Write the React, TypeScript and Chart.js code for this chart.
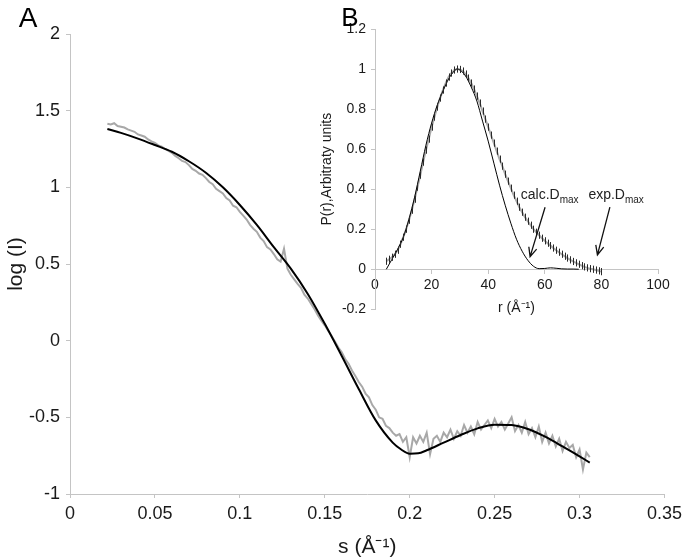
import React, { useEffect, useRef } from 'react';
import { Chart, registerables } from 'chart.js';

Chart.register(...registerables);

// ---------- Panel A data ----------
const MAIN_X_TICKS = [0, 0.05, 0.1, 0.15, 0.2, 0.25, 0.3, 0.35];
const MAIN_Y_TICKS = [-1, -0.5, 0, 0.5, 1, 1.5, 2];

const FIT_S = [0.022, 0.03, 0.04, 0.05, 0.06, 0.07, 0.08, 0.09, 0.1, 0.11, 0.12, 0.13, 0.14, 0.15, 0.16, 0.17, 0.18, 0.19, 0.195, 0.2, 0.205, 0.21, 0.22, 0.23, 0.24, 0.25, 0.26, 0.27, 0.28, 0.29, 0.3, 0.306];
const FIT_LOGI = [1.38, 1.355, 1.318, 1.276, 1.232, 1.17, 1.095, 1.0, 0.885, 0.755, 0.61, 0.47, 0.305, 0.11, -0.1, -0.315, -0.52, -0.665, -0.71, -0.737, -0.735, -0.715, -0.665, -0.615, -0.572, -0.548, -0.55, -0.578, -0.628, -0.69, -0.755, -0.795];

const EXP_S = [
  0.022, 0.024, 0.026, 0.028, 0.03, 0.032, 0.034, 0.036, 0.038, 0.04,
  0.042, 0.044, 0.046, 0.048, 0.05, 0.052, 0.054, 0.056, 0.058, 0.06,
  0.062, 0.064, 0.066, 0.068, 0.07, 0.072, 0.074, 0.076, 0.078, 0.08,
  0.082, 0.084, 0.086, 0.088, 0.09, 0.092, 0.094, 0.096, 0.098, 0.1,
  0.102, 0.104, 0.106, 0.108, 0.11, 0.112, 0.114, 0.116, 0.118, 0.12,
  0.122, 0.124, 0.126, 0.128, 0.13, 0.132, 0.134, 0.136, 0.138, 0.14,
  0.142, 0.144, 0.146, 0.148, 0.15, 0.152, 0.154, 0.156, 0.158, 0.16,
  0.162, 0.164, 0.166, 0.168, 0.17, 0.172, 0.174, 0.176, 0.178, 0.18,
  0.182, 0.184, 0.186, 0.188, 0.19, 0.192, 0.194, 0.196, 0.198, 0.2,
  0.202, 0.204, 0.206, 0.208, 0.21, 0.212, 0.214, 0.216, 0.218, 0.22,
  0.222, 0.224, 0.226, 0.228, 0.23, 0.232, 0.234, 0.236, 0.238, 0.24,
  0.242, 0.244, 0.246, 0.248, 0.25, 0.252, 0.254, 0.256, 0.258, 0.26,
  0.262, 0.264, 0.266, 0.268, 0.27, 0.272, 0.274, 0.276, 0.278, 0.28,
  0.282, 0.284, 0.286, 0.288, 0.29, 0.292, 0.294, 0.296, 0.298, 0.3,
  0.302, 0.304, 0.306,
];
const EXP_LOGI = [
  1.415, 1.41, 1.418, 1.4, 1.395, 1.39, 1.378, 1.37, 1.362, 1.345,
  1.338, 1.33, 1.312, 1.3, 1.29, 1.274, 1.265, 1.25, 1.238, 1.225,
  1.205, 1.19, 1.172, 1.165, 1.145, 1.12, 1.108, 1.09, 1.082, 1.06,
  1.035, 1.02, 0.99, 0.975, 0.96, 0.93, 0.915, 0.88, 0.87, 0.84,
  0.815, 0.79, 0.755, 0.73, 0.71, 0.672, 0.65, 0.61, 0.595, 0.565,
  0.53, 0.515, 0.6, 0.47, 0.43, 0.4, 0.37, 0.345, 0.3, 0.275,
  0.24, 0.205, 0.165, 0.13, 0.1, 0.065, 0.03, -0.005, -0.045, -0.075,
  -0.12, -0.15, -0.195, -0.23, -0.27, -0.3, -0.345, -0.37, -0.42, -0.45,
  -0.5, -0.51, -0.555, -0.57, -0.6, -0.62, -0.61, -0.66, -0.63, -0.76,
  -0.63, -0.67, -0.62, -0.66, -0.6, -0.74, -0.64, -0.62, -0.66, -0.6,
  -0.63, -0.58, -0.64, -0.59, -0.62, -0.55, -0.6, -0.56, -0.61, -0.53,
  -0.58, -0.55, -0.52, -0.57, -0.51, -0.56, -0.53, -0.58, -0.54, -0.5,
  -0.59, -0.55, -0.6, -0.53, -0.61, -0.57, -0.63, -0.56, -0.66, -0.6,
  -0.67, -0.62, -0.69, -0.64, -0.72, -0.66, -0.7, -0.68, -0.76, -0.71,
  -0.84, -0.73, -0.76,
];

// ---------- Panel B data ----------
const INSET_X_TICKS = [0, 20, 40, 60, 80, 100];
const INSET_Y_TICKS = [-0.2, 0, 0.2, 0.4, 0.6, 0.8, 1, 1.2];

const CALC_R = [4, 6, 8, 10, 12, 14, 16, 18, 20, 22, 24, 26, 28, 29, 30, 32, 34, 36, 38, 40, 42, 44, 46, 48, 50, 52, 54, 56, 58, 60, 62, 64, 66, 68, 70, 72];
const CALC_P = [0, 0.05, 0.1, 0.16, 0.25, 0.36, 0.49, 0.62, 0.73, 0.82, 0.89, 0.95, 0.99, 1.0, 0.995, 0.965, 0.91, 0.84, 0.74, 0.64, 0.53, 0.42, 0.32, 0.23, 0.15, 0.09, 0.045, 0.015, 0.003, 0.004, 0.007, 0.005, 0.002, 0.001, 0.001, 0];

const EXP_R = [
  4, 5, 6, 7, 8, 9, 10, 11, 12, 13, 14, 15, 16, 17, 18, 19, 20, 21, 22, 23,
  24, 25, 26, 27, 28, 29, 30, 31, 32, 33, 34, 35, 36, 37, 38, 39, 40, 41, 42, 43,
  44, 45, 46, 47, 48, 49, 50, 51, 52, 53, 54, 55, 56, 57, 58, 59, 60, 61, 62, 63,
  64, 65, 66, 67, 68, 69, 70, 71, 72, 73, 74, 75, 76, 77, 78, 79, 80,
];
const EXP_P = [
  0.04, 0.05, 0.06, 0.075, 0.095, 0.125, 0.16, 0.2, 0.245, 0.295, 0.35, 0.41, 0.47, 0.535, 0.595, 0.65, 0.71, 0.76, 0.81, 0.855,
  0.895, 0.93, 0.96, 0.98, 0.995, 1.0, 0.998, 0.99, 0.975, 0.955, 0.93, 0.9, 0.865, 0.83, 0.79, 0.75, 0.71, 0.67, 0.63, 0.59,
  0.55, 0.515, 0.475, 0.44, 0.405, 0.37, 0.34, 0.31, 0.285, 0.26, 0.24, 0.22, 0.2, 0.185, 0.17, 0.155, 0.142, 0.13, 0.118, 0.106,
  0.095, 0.085, 0.075, 0.065, 0.056, 0.047, 0.039, 0.032, 0.025, 0.018, 0.012, 0.007, 0.003, 0.0, -0.004, -0.008, -0.012,
];
const EXP_ERROR = 0.018;

const FONT = "'Liberation Sans', Arial, Helvetica, sans-serif";
const TEXT = '#1a1a1a';
const AXIS = '#c4c4c4';

const fmt = (v: number | string) => String(Math.round(Number(v) * 1000) / 1000);

const panelLabelA = {
  id: 'panelLabelA',
  afterDraw(chart: any) {
    const ctx = chart.ctx;
    ctx.save();
    ctx.fillStyle = '#000';
    ctx.font = `28px ${FONT}`;
    ctx.textAlign = 'center';
    ctx.textBaseline = 'middle';
    ctx.fillText('A', 28, 19);
    ctx.restore();
  },
};

function drawArrow(ctx: CanvasRenderingContext2D, x1: number, y1: number, x2: number, y2: number) {
  const ang = Math.atan2(y2 - y1, x2 - x1);
  const head = 10;
  const spread = 0.42;
  ctx.beginPath();
  ctx.moveTo(x1, y1);
  ctx.lineTo(x2, y2);
  ctx.moveTo(x2 - head * Math.cos(ang - spread), y2 - head * Math.sin(ang - spread));
  ctx.lineTo(x2, y2);
  ctx.lineTo(x2 - head * Math.cos(ang + spread), y2 - head * Math.sin(ang + spread));
  ctx.stroke();
}

const insetDecor = {
  id: 'insetDecor',
  afterDatasetsDraw(chart: any) {
    const ctx = chart.ctx;
    const xs = chart.scales.x;
    const ys = chart.scales.y;
    ctx.save();
    // error bars on experimental P(r)
    ctx.strokeStyle = '#2a2a2a';
    ctx.lineWidth = 1;
    ctx.beginPath();
    EXP_R.forEach((r, i) => {
      const x = Math.round(xs.getPixelForValue(r)) + 0.5;
      ctx.moveTo(x, ys.getPixelForValue(EXP_P[i] + EXP_ERROR));
      ctx.lineTo(x, ys.getPixelForValue(EXP_P[i] - EXP_ERROR));
    });
    ctx.stroke();
    ctx.restore();
  },
  afterDraw(chart: any) {
    const ctx = chart.ctx;
    const xs = chart.scales.x;
    const ys = chart.scales.y;
    ctx.save();
    ctx.fillStyle = '#000';
    ctx.font = `26px ${FONT}`;
    ctx.textAlign = 'center';
    ctx.textBaseline = 'middle';
    ctx.fillText('B', 40, 19);

    const drawDmax = (prefix: string, r: number, p: number) => {
      const x = xs.getPixelForValue(r);
      const y = ys.getPixelForValue(p);
      ctx.textAlign = 'left';
      ctx.textBaseline = 'alphabetic';
      ctx.fillStyle = '#222';
      ctx.font = `14px ${FONT}`;
      ctx.fillText(prefix, x, y);
      const w = ctx.measureText(prefix).width;
      ctx.font = `10px ${FONT}`;
      ctx.fillText('max', x + w, y + 4);
    };
    drawDmax('calc.D', 51.5, 0.35);
    drawDmax('exp.D', 75.4, 0.35);

    ctx.strokeStyle = '#111';
    ctx.lineWidth = 1.3;
    drawArrow(ctx, xs.getPixelForValue(60.1), ys.getPixelForValue(0.31), xs.getPixelForValue(54.8), ys.getPixelForValue(0.063));
    drawArrow(ctx, xs.getPixelForValue(83.0), ys.getPixelForValue(0.31), xs.getPixelForValue(78.6), ys.getPixelForValue(0.072));
    ctx.restore();
  },
};

export default function App() {
  const mainRef = useRef<HTMLCanvasElement>(null);
  const insetRef = useRef<HTMLCanvasElement>(null);

  useEffect(() => {
    const main = new Chart(mainRef.current as HTMLCanvasElement, {
      type: 'line',
      data: {
        datasets: [
          {
            label: 'calculated',
            data: FIT_S.map((s, i) => ({ x: s, y: FIT_LOGI[i] })),
            borderColor: '#000',
            borderWidth: 2,
            pointRadius: 0,
            tension: 0.4,
            cubicInterpolationMode: 'monotone',
            order: 0,
          },
          {
            label: 'experimental',
            data: EXP_S.map((s, i) => ({ x: s, y: EXP_LOGI[i] })),
            borderColor: '#a8a8a8',
            borderWidth: 2,
            pointRadius: 0,
            tension: 0,
            order: 1,
          },
        ],
      },
      options: {
        responsive: false,
        animation: false,
        devicePixelRatio: 1,
        layout: { padding: { left: 0, top: 34, right: 18, bottom: 0 } },
        plugins: { legend: { display: false }, tooltip: { enabled: false } },
        scales: {
          x: {
            type: 'linear',
            min: 0,
            max: 0.35,
            afterBuildTicks: (s: any) => { s.ticks = MAIN_X_TICKS.map((v) => ({ value: v })); },
            afterFit: (s: any) => { s.height = 66; },
            ticks: { callback: fmt, font: { family: FONT, size: 18 }, color: TEXT, padding: 5, maxRotation: 0, autoSkip: false },
            grid: { drawOnChartArea: false, drawTicks: true, tickLength: 4, color: AXIS },
            border: { display: true, color: AXIS, width: 1 },
            title: { display: true, text: 's (Å⁻¹)', font: { family: FONT, size: 21 }, color: TEXT, padding: { top: 0, bottom: 0 } },
          },
          y: {
            type: 'linear',
            min: -1,
            max: 2,
            afterBuildTicks: (s: any) => { s.ticks = MAIN_Y_TICKS.map((v) => ({ value: v })); },
            afterFit: (s: any) => { s.width = 70; },
            ticks: { callback: fmt, font: { family: FONT, size: 18 }, color: TEXT, padding: 6, autoSkip: false },
            grid: { drawOnChartArea: false, drawTicks: true, tickLength: 4, color: AXIS },
            border: { display: true, color: AXIS, width: 1 },
            title: { display: true, text: 'log (I)', font: { family: FONT, size: 21 }, color: TEXT, padding: { top: 4, bottom: 0 } },
          },
        },
      },
      plugins: [panelLabelA],
    } as any);

    const inset = new Chart(insetRef.current as HTMLCanvasElement, {
      type: 'line',
      data: {
        datasets: [
          {
            label: 'calc',
            data: CALC_R.map((r, i) => ({ x: r, y: CALC_P[i] })),
            borderColor: '#000',
            borderWidth: 1,
            pointRadius: 0,
            tension: 0.4,
            cubicInterpolationMode: 'monotone',
            order: 0,
          },
          {
            label: 'exp',
            data: EXP_R.map((r, i) => ({ x: r, y: EXP_P[i] })),
            borderColor: '#a8a8a8',
            borderWidth: 2,
            pointRadius: 0,
            tension: 0,
            order: 1,
          },
        ],
      },
      options: {
        responsive: false,
        animation: false,
        devicePixelRatio: 1,
        layout: { padding: { left: 0, top: 29, right: 29, bottom: 20.7 } },
        plugins: { legend: { display: false }, tooltip: { enabled: false } },
        scales: {
          x: {
            type: 'linear',
            min: 0,
            max: 100,
            position: { y: 0 },
            afterBuildTicks: (s: any) => { s.ticks = INSET_X_TICKS.map((v) => ({ value: v })); },
            afterFit: (s: any) => { s.height = 47; },
            ticks: { callback: fmt, font: { family: FONT, size: 14 }, color: TEXT, padding: 3, maxRotation: 0, autoSkip: false },
            grid: { drawOnChartArea: false, drawTicks: true, tickLength: 4, color: AXIS },
            border: { display: true, color: AXIS, width: 1 },
            title: { display: true, text: 'r (Å⁻¹)', font: { family: FONT, size: 14 }, color: TEXT, padding: { top: 0, bottom: 0 } },
          },
          y: {
            type: 'linear',
            min: -0.2,
            max: 1.2,
            afterBuildTicks: (s: any) => { s.ticks = INSET_Y_TICKS.map((v) => ({ value: v })); },
            afterFit: (s: any) => { s.width = 65; },
            ticks: { callback: fmt, font: { family: FONT, size: 14 }, color: TEXT, padding: 5, autoSkip: false },
            grid: { drawOnChartArea: false, drawTicks: true, tickLength: 4, color: AXIS },
            border: { display: true, color: AXIS, width: 1 },
            title: { display: true, text: 'P(r),Arbitraty units', font: { family: FONT, size: 14 }, color: TEXT, padding: { top: 9, bottom: 0 } },
          },
        },
      },
      plugins: [insetDecor],
    } as any);

    return () => {
      main.destroy();
      inset.destroy();
    };
  }, []);

  return (
    <div style={{ position: 'absolute', left: 0, top: 0, width: 687, height: 560, background: '#fff' }}>
      <canvas ref={mainRef} width={687} height={560} style={{ position: 'absolute', left: 0, top: 0, width: 687, height: 560 }} />
      <canvas ref={insetRef} width={377} height={330} style={{ position: 'absolute', left: 310, top: 0, width: 377, height: 330 }} />
    </div>
  );
}
